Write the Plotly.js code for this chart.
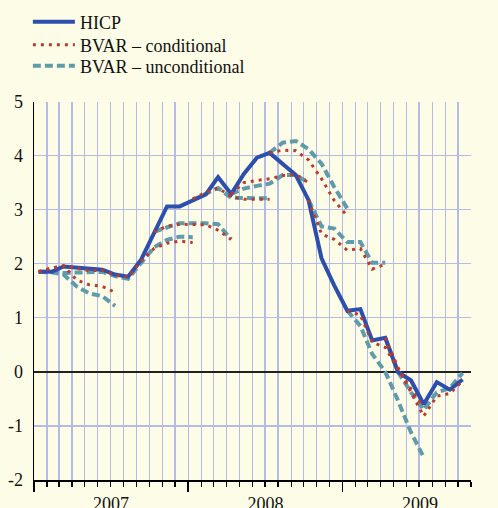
<!DOCTYPE html>
<html>
<head>
<meta charset="utf-8">
<script src="https://cdn.plot.ly/plotly-3.0.1.min.js"></script>
<style>
html,body{margin:0;padding:0;background:#fdfce7;}
#chart{width:498px;height:508px;}
</style>
</head>
<body>
<div id="chart"></div>
<script>
// Months (Jan 2007 - Oct 2009)
const months = ['2007-01','2007-02','2007-03','2007-04','2007-05','2007-06','2007-07','2007-08','2007-09','2007-10','2007-11','2007-12',
                '2008-01','2008-02','2008-03','2008-04','2008-05','2008-06','2008-07','2008-08','2008-09','2008-10','2008-11','2008-12',
                '2009-01','2009-02','2009-03','2009-04','2009-05','2009-06','2009-07','2009-08','2009-09','2009-10'];
// HICP annual inflation (%)
const hicp = [1.85,1.85,1.95,1.93,1.91,1.89,1.80,1.76,2.08,2.58,3.06,3.06,
              3.18,3.28,3.60,3.29,3.66,3.96,4.05,3.85,3.64,3.18,2.10,1.60,
              1.13,1.16,0.58,0.63,0.00,-0.16,-0.60,-0.19,-0.33,-0.14];

// BVAR conditional forecasts: start month + path
const condStarts = ['2007-01','2007-01','2007-10','2008-01','2008-04','2008-07','2008-10','2009-01','2009-04'];
const cond1 = [1.85,1.92,1.96,1.70,1.61,1.58,1.47];
const cond2 = [1.85,1.92,1.96,1.92,1.87,1.88,1.79,1.75,2.05,2.28,2.38,2.42,2.39];
const cond3 = [2.59,2.69,2.73,2.73,2.72,2.62,2.45];
const cond4 = [3.20,3.32,3.40,3.24,3.19,3.19,3.19];
const cond5 = [3.29,3.50,3.54,3.57,3.63,3.65,3.50];
const cond6 = [4.05,4.10,4.09,3.92,3.57,3.17,2.88];
const cond7 = [3.18,2.55,2.45,2.25,2.28,1.90,1.99];
const cond8 = [1.13,1.05,0.55,0.45,0.05,-0.32,-0.65];
const cond9 = [0.63,0.08,-0.38,-0.82,-0.45,-0.40,-0.17];

// BVAR unconditional forecasts: start month + path
const uncondStarts = ['2007-01','2007-01','2007-10','2008-01','2008-04','2008-07','2008-10','2009-01','2009-04'];
const uncond1 = [1.85,1.84,1.80,1.58,1.45,1.40,1.22];
const uncond2 = [1.85,1.85,1.83,1.84,1.85,1.85,1.77,1.72,2.02,2.30,2.44,2.50,2.49];
const uncond3 = [2.59,2.68,2.75,2.75,2.75,2.73,2.45];
const uncond4 = [3.18,3.30,3.40,3.22,3.21,3.21,3.21];
const uncond5 = [3.29,3.39,3.44,3.48,3.64,3.64,3.50];
const uncond6 = [4.05,4.24,4.27,4.12,3.85,3.42,3.02];
const uncond7 = [3.18,2.69,2.65,2.40,2.40,2.02,2.02];
const uncond8 = [1.13,0.85,0.33,0.00,-0.53,-1.12,-1.58];
const uncond9 = [0.63,0.00,-0.38,-0.70,-0.38,-0.30,-0.02];

const yTicks = [-2,-1,0,1,2,3,4,5];
const yTickText = ['-2','-1','0','1','2','3','4','5'];
const legendNames = ['HICP','BVAR – conditional','BVAR – unconditional'];

const condPaths = [cond1,cond2,cond3,cond4,cond5,cond6,cond7,cond8,cond9];
const uncondPaths = [uncond1,uncond2,uncond3,uncond4,uncond5,uncond6,uncond7,uncond8,uncond9];

const DAY = '-12'; // observations plotted within the month
function xFor(startMonth, n){
  const i0 = months.indexOf(startMonth);
  return months.slice(i0, i0+n).map(m => m + DAY);
}

const COL_HICP = '#2c4fae', COL_COND = '#bd3a2b', COL_UNC = '#5f9bab';
const traces = [];
uncondPaths.forEach((p,i) => traces.push({
  type:'scatter', mode:'lines', x:xFor(uncondStarts[i], p.length), y:p,
  name:legendNames[2], legend:'legend3', showlegend:i===0,
  line:{color:COL_UNC, width:4, dash:'8px,4px'}, hoverinfo:'skip'
}));
traces.push({
  type:'scatter', mode:'lines', x:months.map(m=>m+DAY), y:hicp,
  name:legendNames[0], legend:'legend',
  line:{color:COL_HICP, width:4}, hoverinfo:'skip'
});
condPaths.forEach((p,i) => traces.push({
  type:'scatter', mode:'lines', x:xFor(condStarts[i], p.length), y:p,
  name:legendNames[1], legend:'legend2', showlegend:i===0,
  line:{color:COL_COND, width:3, dash:'3px,5px'}, hoverinfo:'skip'
}));

const GRID = '#b5bae8';
const FONT = {family:'"Liberation Serif", "Times New Roman", serif', size:18, color:'#111'};
// paper spans y = 0 .. 480 px; plot occupies its lower part
const PAPER_TOP = 0, PAPER_BOT = 480, PLOT_TOP = 101.5;
const PH = PAPER_BOT - PAPER_TOP;
function leg(yPix){
  return {x:-0.014, y:(PAPER_BOT - yPix)/PH, xref:'paper', yref:'paper', xanchor:'left', yanchor:'middle',
          bgcolor:'rgba(0,0,0,0)', borderwidth:0, font:FONT, itemwidth:42};
}
const yDomain = [0, (PAPER_BOT - PLOT_TOP)/PH];
const layout = {
  width:498, height:508,
  margin:{l:34, r:27, t:PAPER_TOP, b:508-PAPER_BOT, pad:0},
  paper_bgcolor:'#fdfce7', plot_bgcolor:'#fdfce7',
  font:FONT,
  showlegend:true,
  legend:leg(22), legend2:leg(45), legend3:leg(66),
  xaxis:{type:'date', range:['2007-01-01','2009-11-01'], tick0:'2007-01-01', dtick:'M12',
         tickformat:'%Y', ticklabelmode:'period', ticks:'outside', ticklen:10, tickwidth:1.5, tickcolor:'#000',
         showgrid:true, gridcolor:GRID, gridwidth:1.2, showline:true, linecolor:'#000', linewidth:1.5,
         zeroline:false, tickfont:FONT, ticklabelstandoff:-3, fixedrange:true,
         minor:{tick0:'2007-01-01', dtick:'M1', ticks:'outside', ticklen:5, tickwidth:1.2, tickcolor:'#000',
                showgrid:true, gridcolor:GRID, gridwidth:1.2}},
  yaxis:{domain:yDomain, range:[-2,5], tickvals:yTicks, ticktext:yTickText, ticks:'', showgrid:true, gridcolor:GRID, gridwidth:1.2,
         zeroline:true, zerolinecolor:'#222', zerolinewidth:1.6, showline:true, linecolor:'#000', linewidth:1.5,
         tickfont:FONT, ticklabelstandoff:6, fixedrange:true},
  yaxis2:{domain:yDomain, range:[-2,5], overlaying:'y', side:'right', tickvals:yTicks, ticktext:yTickText, ticks:'',
          showgrid:false, zeroline:false, showline:true, linecolor:'#000', linewidth:1.5,
          tickfont:FONT, ticklabelstandoff:10, fixedrange:true}
};
Plotly.newPlot('chart', traces, layout, {displayModeBar:false, staticPlot:true});
</script>
</body>
</html>
